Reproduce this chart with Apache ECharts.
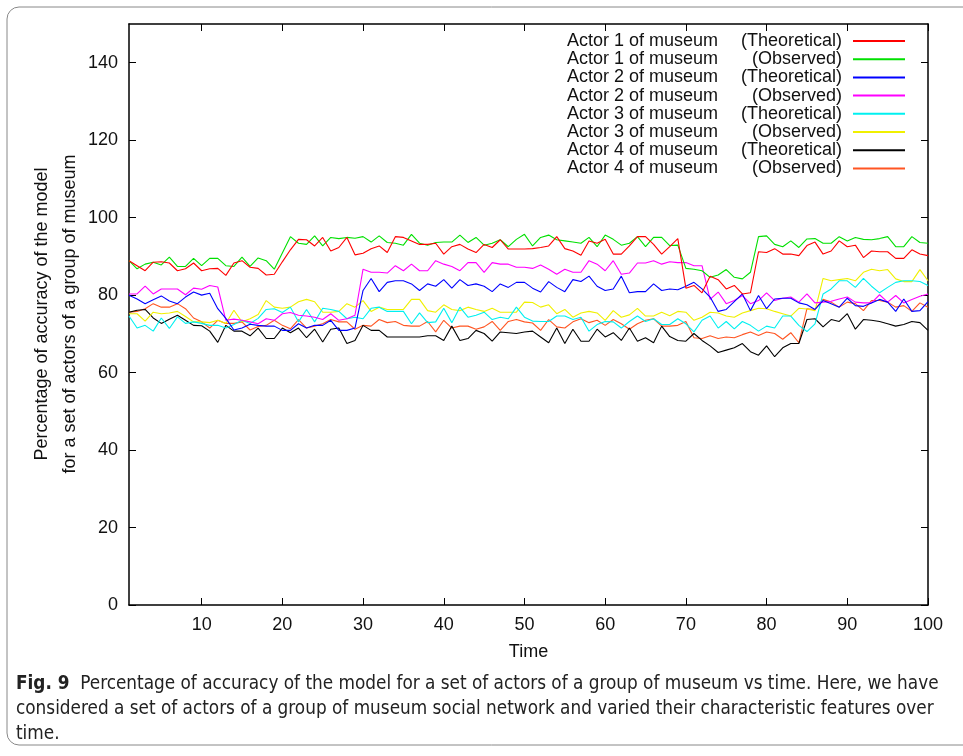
<!DOCTYPE html>
<html>
<head>
<meta charset="utf-8">
<script src="https://cdn.jsdelivr.net/npm/echarts@6/dist/echarts.min.js"></script>
<style>
  html, body { margin: 0; padding: 0; background: #fff; }
  #chart { width: 963px; height: 756px; }
</style>
</head>
<body>
<div id="chart"></div>
<script>
// time steps 1..100
var time = [];
for (var i = 1; i <= 100; i++) time.push(i);

var xTicks = [10, 20, 30, 40, 50, 60, 70, 80, 90, 100];
var yTicks = [0, 20, 40, 60, 80, 100, 120, 140];

var actor1Theo = [
  88.9, 87.6, 86.3, 88.5, 88.6, 88.3, 86.3, 86.8, 88.3, 86.3, 86.8, 86.9, 85.1, 88.3, 88.9, 87.2, 86.9,
  85.2, 85.4, 88.6, 91.7, 94.4, 94.3, 92.7, 94.9, 91.4, 92.3, 94.9, 90.4, 90.8, 92.0, 92.7, 91.0, 95.1,
  94.9, 94.0, 93.1, 93.1, 93.4, 90.6, 92.5, 93.1, 91.9, 91.0, 93.1, 92.3, 94.3, 91.9, 91.9, 91.9, 92.0,
  92.3, 92.7, 95.1, 92.0, 91.4, 90.3, 94.0, 93.4, 94.4, 90.6, 90.6, 92.7, 95.1, 95.1, 93.1, 90.6, 92.5,
  94.6, 81.8, 82.5, 80.6, 84.9, 84.0, 81.6, 82.5, 80.3, 80.6, 91.2, 91.0, 92.0, 90.6, 90.6, 90.2, 92.8,
  93.7, 90.6, 91.4, 94.0, 92.5, 92.9, 89.7, 91.4, 91.2, 91.2, 89.5, 89.5, 91.7, 90.6, 90.2
];
var actor1Obs = [
  88.9, 86.8, 88.0, 88.5, 87.8, 89.8, 87.4, 87.4, 89.5, 87.6, 89.5, 89.5, 87.6, 87.4, 89.8, 87.4, 89.6,
  88.9, 86.7, 90.9, 95.1, 93.4, 93.1, 95.3, 92.7, 94.9, 94.6, 94.9, 94.7, 95.1, 93.7, 95.3, 93.6, 93.4,
  92.9, 95.7, 93.4, 92.9, 93.6, 93.7, 93.7, 95.5, 93.6, 94.9, 92.9, 93.4, 94.3, 92.5, 94.4, 95.7, 92.7,
  94.9, 95.5, 94.3, 94.0, 93.7, 93.4, 94.9, 92.5, 95.5, 94.4, 92.9, 93.4, 95.1, 92.5, 94.9, 94.9, 92.8,
  92.9, 86.9, 86.7, 86.3, 84.6, 85.2, 86.6, 84.6, 84.2, 85.9, 95.1, 95.3, 93.1, 92.5, 94.0, 92.3, 94.5,
  94.6, 93.4, 93.4, 95.1, 94.0, 94.9, 94.4, 94.3, 94.6, 95.1, 92.5, 92.5, 95.1, 93.6, 93.4
];
var actor2Theo = [
  80.0, 79.0, 77.8, 78.8, 79.8, 78.5, 77.8, 79.5, 80.8, 80.0, 80.5, 76.5, 74.0, 71.0, 71.5, 72.5, 72.2,
  72.0, 72.0, 70.9, 70.9, 72.6, 71.5, 72.2, 72.2, 73.5, 70.9, 70.9, 71.5, 81.2, 84.3, 80.9, 83.3, 83.7,
  83.7, 82.9, 81.2, 82.9, 82.3, 84.0, 81.8, 84.0, 82.5, 82.9, 82.3, 80.9, 82.9, 82.0, 83.3, 83.3, 81.8,
  80.8, 83.5, 82.0, 80.9, 84.0, 83.5, 84.9, 82.3, 81.2, 81.6, 84.9, 80.6, 80.9, 80.9, 82.9, 81.2, 81.6,
  81.4, 82.3, 83.3, 81.6, 79.5, 75.8, 76.3, 78.3, 80.3, 76.0, 79.9, 76.5, 79.0, 79.2, 79.2, 78.0, 77.5,
  76.3, 78.6, 77.8, 76.9, 79.2, 77.3, 77.1, 78.0, 78.9, 78.2, 75.8, 79.0, 75.8, 76.0, 78.3
];
var actor2Obs = [
  80.3, 80.3, 82.3, 80.3, 81.6, 81.6, 81.6, 80.1, 81.8, 81.5, 82.5, 82.1, 73.5, 73.8, 73.5, 73.1, 72.6,
  73.9, 73.5, 75.2, 75.5, 74.8, 74.6, 74.3, 73.7, 75.2, 73.5, 73.9, 74.8, 86.7, 85.9, 85.9, 85.7, 87.6,
  86.3, 88.0, 86.3, 86.3, 88.9, 88.0, 87.4, 86.3, 88.4, 88.4, 85.9, 88.4, 88.0, 88.0, 87.2, 87.2, 86.9,
  87.8, 86.7, 85.4, 86.7, 85.9, 85.9, 88.9, 88.0, 86.3, 88.9, 85.4, 85.7, 88.3, 88.3, 88.9, 88.0, 88.6,
  88.4, 88.4, 87.6, 87.6, 78.9, 80.8, 77.8, 78.6, 79.9, 77.8, 78.6, 80.6, 78.6, 79.2, 79.5, 78.2, 80.3,
  78.0, 78.2, 78.4, 79.0, 79.5, 78.2, 78.0, 78.0, 80.1, 78.2, 79.9, 78.0, 78.9, 79.7, 80.3
];
var actor3Theo = [
  74.6, 71.5, 72.2, 70.7, 74.1, 71.4, 74.4, 72.7, 73.1, 72.7, 72.2, 72.2, 71.5, 72.4, 73.5, 72.7, 74.0,
  76.3, 76.5, 75.5, 76.9, 73.1, 76.3, 73.1, 76.6, 76.3, 75.8, 73.9, 74.3, 73.9, 76.6, 76.9, 75.8, 75.8,
  75.8, 72.6, 75.4, 72.9, 73.1, 76.6, 72.9, 76.9, 74.3, 74.8, 75.6, 73.7, 74.3, 73.9, 76.9, 74.3, 73.3,
  73.2, 73.2, 74.6, 74.6, 73.7, 74.3, 70.7, 72.4, 73.2, 73.1, 71.5, 73.2, 74.6, 73.2, 73.9, 72.4, 72.4,
  73.9, 72.6, 70.5, 73.5, 74.6, 71.5, 73.2, 71.3, 73.2, 72.2, 70.7, 72.0, 71.5, 74.6, 74.6, 72.2, 70.6,
  72.6, 80.3, 81.6, 83.7, 83.7, 82.0, 84.3, 82.3, 80.6, 82.0, 83.3, 83.7, 83.7, 83.5, 82.5
];
var actor3Obs = [
  75.2, 75.2, 73.3, 75.6, 75.2, 75.4, 75.8, 74.5, 73.1, 73.1, 72.9, 73.5, 72.7, 76.1, 73.1, 73.9, 75.0,
  78.6, 76.9, 76.6, 76.9, 78.3, 78.9, 78.3, 75.6, 75.6, 75.8, 77.8, 76.9, 78.6, 75.8, 76.9, 76.3, 76.3,
  76.3, 78.9, 78.9, 76.0, 75.6, 77.5, 76.3, 76.0, 76.9, 76.3, 75.8, 76.6, 75.6, 75.6, 75.6, 78.2, 78.1,
  76.9, 77.5, 75.2, 76.3, 74.3, 75.4, 75.8, 75.4, 73.5, 76.0, 74.3, 74.9, 76.6, 74.6, 74.6, 75.6, 74.7,
  75.8, 75.6, 73.5, 74.3, 75.6, 75.4, 74.6, 74.3, 75.4, 76.0, 76.6, 76.5, 75.8, 75.2, 74.6, 76.6, 76.4,
  76.0, 84.3, 83.7, 84.0, 84.3, 83.7, 85.9, 86.7, 86.3, 86.6, 84.2, 83.5, 83.5, 86.6, 83.7
];
var actor4Theo = [
  75.6, 76.1, 76.3, 74.1, 72.7, 73.8, 74.8, 73.5, 72.2, 72.1, 70.7, 67.8, 72.2, 70.7, 70.7, 69.5, 71.5,
  68.8, 68.8, 71.5, 70.3, 71.5, 69.0, 71.2, 67.9, 71.2, 71.5, 67.5, 68.3, 72.2, 70.9, 70.9, 69.2, 69.2,
  69.2, 69.2, 69.2, 69.5, 69.5, 68.3, 72.0, 68.3, 68.8, 70.9, 70.1, 68.1, 70.5, 70.3, 70.1, 70.5, 70.7,
  69.2, 67.7, 71.5, 67.5, 71.2, 68.1, 68.1, 71.2, 69.2, 70.3, 68.3, 71.5, 68.1, 69.0, 67.7, 72.0, 69.3,
  68.3, 68.1, 70.1, 68.3, 66.9, 65.2, 65.8, 66.4, 67.5, 65.4, 64.5, 66.9, 64.1, 66.4, 67.5, 67.5, 73.7,
  73.9, 71.8, 73.7, 73.2, 75.2, 71.2, 73.7, 73.5, 73.2, 72.6, 72.0, 72.4, 73.2, 72.9, 70.9
];
var actor4Obs = [
  75.6, 75.8, 76.5, 77.8, 76.9, 76.9, 77.8, 76.5, 74.1, 73.1, 71.5, 73.5, 72.7, 72.7, 73.1, 71.0, 71.9,
  72.2, 73.5, 72.2, 71.3, 73.7, 71.5, 72.0, 72.6, 73.7, 73.1, 73.1, 71.2, 72.2, 72.0, 73.7, 72.9, 73.2,
  72.2, 72.0, 72.0, 73.2, 70.5, 73.5, 71.5, 72.0, 72.0, 71.2, 71.8, 73.2, 70.9, 73.2, 73.7, 73.1, 72.8,
  70.9, 73.7, 71.8, 71.5, 73.1, 73.9, 72.9, 73.5, 72.2, 73.7, 72.6, 71.2, 72.6, 73.5, 73.9, 72.0, 72.0,
  72.2, 73.2, 69.0, 68.8, 69.5, 68.8, 69.2, 69.0, 69.8, 70.5, 69.6, 70.5, 70.1, 68.6, 70.3, 67.7, 76.5,
  76.3, 78.9, 78.2, 76.9, 78.2, 77.8, 76.0, 78.6, 78.6, 78.2, 76.9, 77.3, 75.8, 78.0, 76.9
];

var seriesNames = [
  'Actor 1 of museum (Theoretical)', 'Actor 1 of museum (Observed)',
  'Actor 2 of museum (Theoretical)', 'Actor 2 of museum (Observed)',
  'Actor 3 of museum (Theoretical)', 'Actor 3 of museum (Observed)',
  'Actor 4 of museum (Theoretical)', 'Actor 4 of museum (Observed)'
];
var seriesValues = [actor1Theo, actor1Obs, actor2Theo, actor2Obs, actor3Theo, actor3Obs, actor4Theo, actor4Obs];
var colors = ['#ff0000', '#00e000', '#0000ff', '#ff00ff', '#00f0f0', '#f0f000', '#000000', '#ff5522'];

var font = 'Liberation Sans, Arial, sans-serif';
var capFont = '"DejaVu Sans Condensed", "Liberation Sans Narrow", sans-serif';
var chart = echarts.init(document.getElementById('chart'));

function pairs(vals) {
  return vals.map(function (v, i) { return [time[i], v]; });
}

var series = seriesNames.map(function (name, k) {
  return {
    name: name,
    type: 'line',
    symbol: 'none',
    data: pairs(seriesValues[k]),
    lineStyle: { width: 1.1, color: colors[k] },
    itemStyle: { color: colors[k] },
    z: 10 - k,
    animation: false
  };
});

var axisLine = { show: true, onZero: false, lineStyle: { color: '#000', width: 1.5 } };

chart.setOption({
  animation: false,
  textStyle: { fontFamily: font },
  grid: { left: 129, right: 35, top: 24, bottom: 151 },
  xAxis: [{
    type: 'value', min: 1, max: 100, position: 'bottom',
    axisLine: axisLine,
    axisTick: { inside: true, length: 7, customValues: xTicks, lineStyle: { color: '#000' } },
    axisLabel: { customValues: xTicks, fontSize: 18, color: '#111', margin: 11, fontFamily: font },
    splitLine: { show: false },
    name: 'Time', nameLocation: 'middle', nameGap: 38,
    nameTextStyle: { fontSize: 18, color: '#111', fontFamily: font }
  }, {
    type: 'value', min: 1, max: 100, position: 'top',
    axisLine: axisLine,
    axisTick: { inside: true, length: 7, customValues: xTicks, lineStyle: { color: '#000' } },
    axisLabel: { show: false },
    splitLine: { show: false }
  }],
  yAxis: [{
    type: 'value', min: 0, max: 150, position: 'left',
    axisLine: axisLine,
    axisTick: { inside: true, length: 7, customValues: yTicks, lineStyle: { color: '#000' } },
    axisLabel: { customValues: yTicks, fontSize: 18, color: '#111', margin: 11, fontFamily: font },
    splitLine: { show: false }
  }, {
    type: 'value', min: 0, max: 150, position: 'right',
    axisLine: axisLine,
    axisTick: { inside: true, length: 7, customValues: yTicks, lineStyle: { color: '#000' } },
    axisLabel: { show: false },
    splitLine: { show: false }
  }],
  legend: {
    orient: 'vertical',
    right: 58,
    top: 32,
    padding: 0,
    align: 'right',
    itemGap: 0.2,
    itemWidth: 52,
    itemHeight: 2,
    icon: 'rect',
    selectedMode: false,
    data: seriesNames,
    formatter: function (name) {
      var cut = name.indexOf('(');
      return '{a|' + name.slice(0, cut).trim() + '}{b|' + name.slice(cut) + '}';
    },
    textStyle: {
      fontSize: 18, color: '#111', fontFamily: font, lineHeight: 18,
      rich: {
        a: { width: 168, align: 'left', fontSize: 18, fontFamily: font, color: '#111', lineHeight: 18 },
        b: { width: 107, align: 'right', fontSize: 18, fontFamily: font, color: '#111', lineHeight: 18, padding: [0, 6, 0, 0] }
      }
    }
  },
  graphic: [{
    type: 'rect', silent: true, z: -1,
    shape: { x: 7, y: 7, width: 975, height: 738, r: 12 },
    style: { fill: 'none', stroke: '#888', lineWidth: 1 }
  }, {
    type: 'text', silent: true,
    x: 56, y: 314, rotation: Math.PI / 2,
    style: {
      text: 'Percentage of accuracy of the model\nfor a set of actors of a group of museum',
      font: '18px ' + font, fill: '#111',
      align: 'center', verticalAlign: 'middle', lineHeight: 28
    }
  }, {
    type: 'text', silent: true, left: 16, top: 672,
    style: {
      text: '{f|Fig. 9}  Percentage of accuracy of the model for a set of actors of a group of museum vs time. Here, we have\n' +
        'considered a set of actors of a group of museum social network and varied their characteristic features over\n' +
        'time.',
      font: '18.8px ' + capFont,
      fill: '#222', lineHeight: 25,
      rich: {
        f: { font: 'bold 18.8px ' + capFont, fill: '#222', lineHeight: 25 }
      }
    }
  }],
  series: series
});
</script>
</body>
</html>
